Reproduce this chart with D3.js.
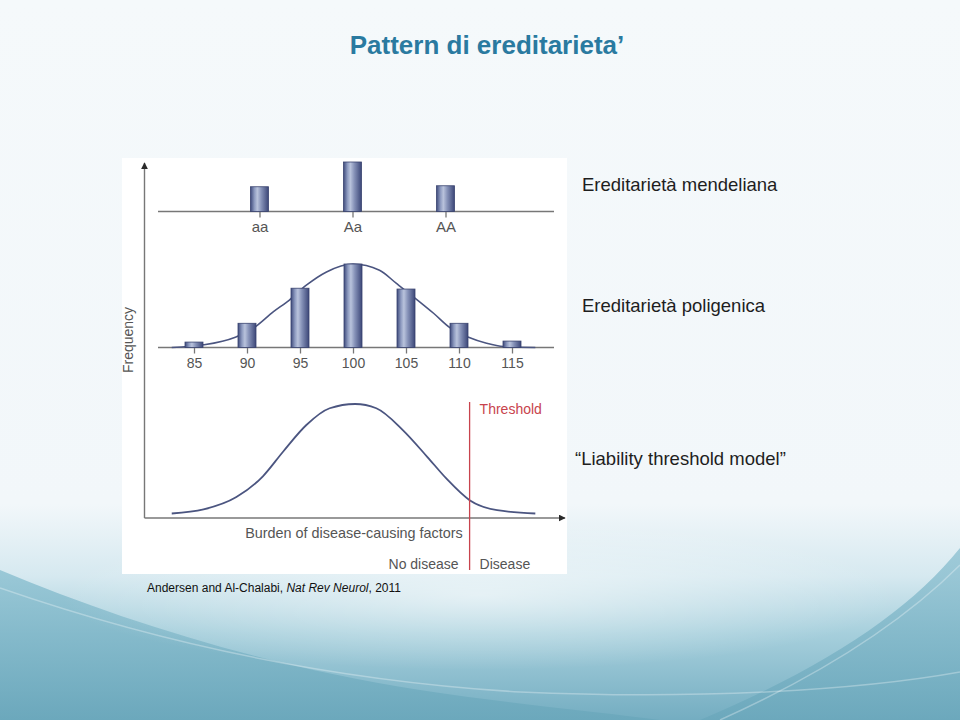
<!DOCTYPE html>
<html>
<head>
<meta charset="utf-8">
<script src="https://d3js.org/d3.v7.min.js"></script>
<style>
  html, body { margin: 0; padding: 0; }
  body { width: 960px; height: 720px; overflow: hidden; }
  svg { display: block; }
</style>
</head>
<body>
<svg id="slide"></svg>
<script>
// values
const genotypes = ["aa", "Aa", "AA"];
const genotypeFreq = [0.25, 0.5, 0.26];

const scores = [85, 90, 95, 100, 105, 110, 115];
const scoreFreq = [0.065, 0.29, 0.71, 1.0, 0.70, 0.29, 0.077];

const polyCurveX = [82.9, 85.9, 88.9, 90.6, 92.5, 94.0, 95.6, 97.5, 100, 102.5, 104.1, 105.7, 107.6, 109.2, 110.9, 112.6, 114.2, 117.2];
const polyCurveY = [0, 0.032, 0.124, 0.231, 0.429, 0.568, 0.746, 0.905, 1.0, 0.925, 0.767, 0.607, 0.41, 0.231, 0.124, 0.052, 0.012, 0];

const liabX = [82.9, 85.9, 89.0, 91.5, 93.4, 95.6, 97.8, 100.2, 102.2, 104.7, 107.0, 108.8, 111.0, 113.6, 117.2];
const liabY = [0, 0.037, 0.15, 0.34, 0.564, 0.808, 0.961, 1.0, 0.961, 0.762, 0.518, 0.32, 0.122, 0.03, 0];
const threshold = 111;

const W = 960, H = 720;
const svg = d3.select("#slide").attr("width", W).attr("height", H);
const defs = svg.append("defs");

// ---- slide background ----
const bg = defs.append("linearGradient").attr("id", "bg").attr("x1", 0).attr("y1", 0).attr("x2", 0).attr("y2", 1);
[[0, "#f5f9fb"], [0.7, "#f2f7fa"], [0.8, "#d6e9f0"], [0.88, "#a6cfdc"], [1, "#74adc1"]]
  .forEach(s => bg.append("stop").attr("offset", s[0]).attr("stop-color", s[1]));
svg.append("rect").attr("width", W).attr("height", H).attr("fill", "url(#bg)");

const wave = defs.append("linearGradient").attr("id", "wave").attr("x1", 0).attr("y1", 0).attr("x2", 0).attr("y2", 1);
[[0, "#8fc2d2"], [1, "#6aa7bb"]]
  .forEach(s => wave.append("stop").attr("offset", s[0]).attr("stop-color", s[1]));

// darker side swooshes
svg.append("path")
  .attr("d", "M0,570 C120,620 260,665 420,690 C520,705 600,712 660,720 L0,720 Z")
  .attr("fill", "url(#wave)").attr("opacity", 0.85);
svg.append("path")
  .attr("d", "M960,548 C910,610 830,665 700,720 L960,720 Z")
  .attr("fill", "url(#wave)").attr("opacity", 0.8);

// light lens in the middle
const lens = defs.append("radialGradient").attr("id", "lens");
lens.append("stop").attr("offset", 0).attr("stop-color", "#ffffff").attr("stop-opacity", 0.55);
lens.append("stop").attr("offset", 1).attr("stop-color", "#ffffff").attr("stop-opacity", 0);
svg.append("ellipse").attr("cx", 480).attr("cy", 595).attr("rx", 420).attr("ry", 75).attr("fill", "url(#lens)");

// soft highlight arcs
svg.append("path")
  .attr("d", "M0,588 C150,640 320,680 520,692 C700,700 860,690 960,672")
  .attr("fill", "none").attr("stroke", "#ffffff").attr("stroke-opacity", 0.3).attr("stroke-width", 1.5);
svg.append("path")
  .attr("d", "M960,565 C900,625 820,675 720,720")
  .attr("fill", "none").attr("stroke", "#ffffff").attr("stroke-opacity", 0.3).attr("stroke-width", 1.5);

// ---- title & side texts ----
svg.append("text").attr("x", 487).attr("y", 54).attr("text-anchor", "middle")
  .style("font", "bold 26px 'Liberation Sans', Arial, sans-serif").attr("fill", "#2a7aa0")
  .text("Pattern di ereditarieta\u2019");

const side = [["Ereditarietà mendeliana", 582, 191], ["Ereditarietà poligenica", 582, 312], ["\u201cLiability threshold model\u201d", 575, 465]];
svg.selectAll(".side").data(side).join("text").attr("class", "side")
  .attr("x", d => d[1]).attr("y", d => d[2])
  .style("font", "18.5px 'Liberation Sans', Arial, sans-serif").attr("fill", "#1e1e1e")
  .text(d => d[0]);

const cite = svg.append("text").attr("x", 147).attr("y", 592)
  .style("font", "12px 'Liberation Sans', Arial, sans-serif").attr("fill", "#111");
cite.append("tspan").text("Andersen and Al-Chalabi, ");
cite.append("tspan").style("font-style", "italic").text("Nat Rev Neurol");
cite.append("tspan").text(", 2011");

// ---- figure panel ----
svg.append("rect").attr("x", 122).attr("y", 158).attr("width", 445).attr("height", 416).attr("fill", "#ffffff");

const barGrad = defs.append("linearGradient").attr("id", "bar").attr("x1", 0).attr("x2", 1).attr("y1", 0).attr("y2", 0);
[[0, "#3f4b7c"], [0.22, "#8e9bc0"], [0.38, "#b9c3dc"], [0.6, "#8692b8"], [1, "#3c4778"]]
  .forEach(s => barGrad.append("stop").attr("offset", s[0]).attr("stop-color", s[1]));

const arrow = defs.append("marker").attr("id", "arr").attr("viewBox", "0 0 10 10")
  .attr("refX", 9).attr("refY", 5).attr("markerWidth", 7).attr("markerHeight", 7)
  .attr("markerUnits", "userSpaceOnUse").attr("orient", "auto");
arrow.append("path").attr("d", "M0,0 L10,5 L0,10 Z").attr("fill", "#2a2a2a");

const axisCol = "#777777", textCol = "#555555", curveCol = "#4b5580";
const figFont = "'Liberation Sans', Arial, sans-serif";
const barW = 18;

// main axes
svg.append("line").attr("x1", 144.5).attr("x2", 144.5).attr("y1", 518).attr("y2", 163)
  .attr("stroke", axisCol).attr("stroke-width", 1.4).attr("marker-end", "url(#arr)");
svg.append("line").attr("x1", 144.5).attr("x2", 565).attr("y1", 518).attr("y2", 518)
  .attr("stroke", axisCol).attr("stroke-width", 1.4).attr("marker-end", "url(#arr)");

svg.append("text").attr("transform", "translate(133,340) rotate(-90)").attr("text-anchor", "middle")
  .style("font", "14px " + figFont).attr("fill", textCol).text("Frequency");

// panel 1: Mendelian
const xg = d3.scalePoint().domain(genotypes).range([259.5, 445.5]);
const y1 = d3.scaleLinear().domain([0, 0.5]).range([211.5, 162]);

svg.append("line").attr("x1", 158).attr("x2", 554).attr("y1", 211.5).attr("y2", 211.5)
  .attr("stroke", axisCol).attr("stroke-width", 1.3);

const ax1 = svg.append("g").attr("transform", "translate(0,211.5)")
  .call(d3.axisBottom(xg).tickSize(6).tickSizeOuter(0).tickPadding(4));
ax1.select(".domain").remove();
ax1.selectAll(".tick line").attr("stroke", axisCol).attr("stroke-width", 1.3);
ax1.selectAll(".tick text").style("font", "15px " + figFont).attr("fill", textCol);

svg.selectAll(".bar1").data(genotypes).join("rect").attr("class", "bar1")
  .attr("x", d => xg(d) - barW / 2).attr("width", barW)
  .attr("y", (d, i) => y1(genotypeFreq[i])).attr("height", (d, i) => y1(0) - y1(genotypeFreq[i]))
  .attr("fill", "url(#bar)").attr("stroke", "#39436f").attr("stroke-width", 0.8);

// panel 2: polygenic
const x = d3.scaleLinear().domain([85, 115]).range([194, 512]);
const y2 = d3.scaleLinear().domain([0, 1]).range([347.5, 264]);

svg.append("line").attr("x1", 158).attr("x2", 554).attr("y1", 347.5).attr("y2", 347.5)
  .attr("stroke", axisCol).attr("stroke-width", 1.3);

const ax2 = svg.append("g").attr("transform", "translate(0,347.5)")
  .call(d3.axisBottom(x).tickValues(scores).tickSize(6).tickSizeOuter(0).tickPadding(5).tickFormat(d3.format("d")));
ax2.select(".domain").remove();
ax2.selectAll(".tick line").attr("stroke", axisCol).attr("stroke-width", 1.3);
ax2.selectAll(".tick text").style("font", "14px " + figFont).attr("fill", textCol);

const line2 = d3.line().x(d => x(d[0])).y(d => y2(d[1])).curve(d3.curveMonotoneX);
svg.append("path").datum(polyCurveX.map((v, i) => [v, polyCurveY[i]]))
  .attr("d", line2).attr("fill", "none").attr("stroke", curveCol).attr("stroke-width", 1.6);

svg.selectAll(".bar2").data(scores).join("rect").attr("class", "bar2")
  .attr("x", d => x(d) - barW / 2).attr("width", barW)
  .attr("y", (d, i) => y2(scoreFreq[i])).attr("height", (d, i) => y2(0) - y2(scoreFreq[i]))
  .attr("fill", "url(#bar)").attr("stroke", "#39436f").attr("stroke-width", 0.8);

// panel 3: liability threshold
const y3 = d3.scaleLinear().domain([0, 1]).range([513.5, 404]);
const line3 = d3.line().x(d => x(d[0])).y(d => y3(d[1])).curve(d3.curveMonotoneX);
svg.append("path").datum(liabX.map((v, i) => [v, liabY[i]]))
  .attr("d", line3).attr("fill", "none").attr("stroke", curveCol).attr("stroke-width", 1.8);

svg.append("line").attr("x1", x(threshold)).attr("x2", x(threshold)).attr("y1", 402).attr("y2", 570)
  .attr("stroke", "#c8434d").attr("stroke-width", 1.3);
svg.append("text").attr("x", x(threshold) + 10).attr("y", 414)
  .style("font", "14px " + figFont).attr("fill", "#c8434d").text("Threshold");

svg.append("text").attr("x", 354).attr("y", 538).attr("text-anchor", "middle")
  .style("font", "14.4px " + figFont).attr("fill", textCol).text("Burden of disease-causing factors");
svg.append("text").attr("x", x(threshold) - 11).attr("y", 569).attr("text-anchor", "end")
  .style("font", "14px " + figFont).attr("fill", textCol).text("No disease");
svg.append("text").attr("x", x(threshold) + 10).attr("y", 569)
  .style("font", "14px " + figFont).attr("fill", textCol).text("Disease");
</script>
</body>
</html>
